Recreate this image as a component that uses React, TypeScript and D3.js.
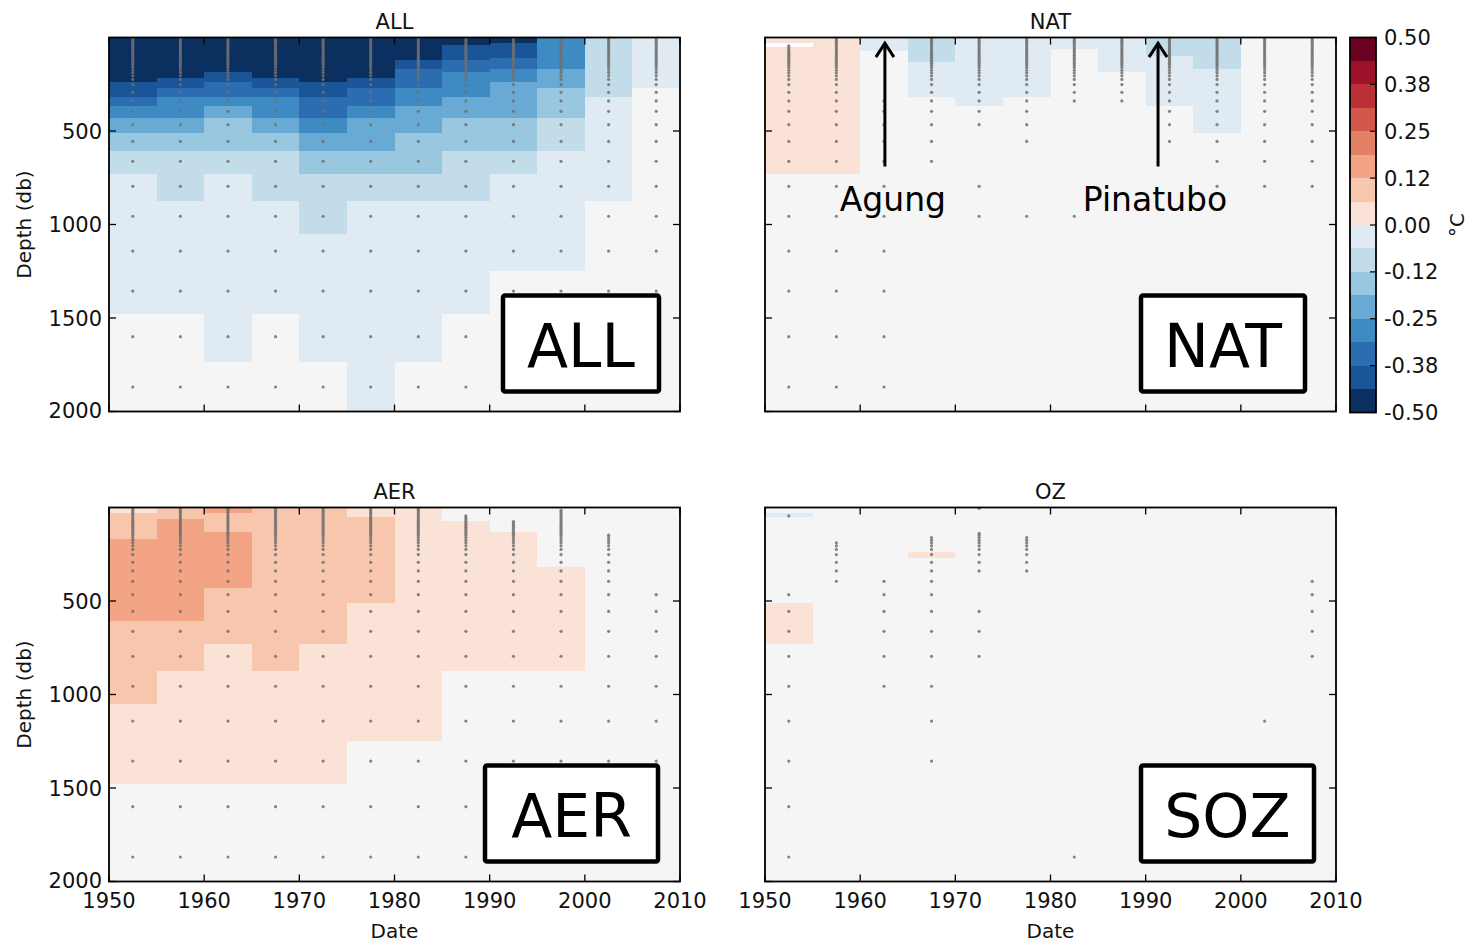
import React from 'react';
import * as d3 from 'd3';

// depth levels (db), cell centres
const levels = [5, 15, 25, 35, 45, 55, 65, 75, 85, 95, 105, 116, 127, 138, 148, 161, 175, 189, 205, 224, 252, 293, 339, 395, 466, 556, 662, 796, 956, 1142, 1356, 1600, 1869];
const pentads = [1950, 1955, 1960, 1965, 1970, 1975, 1980, 1985, 1990, 1995, 2000, 2005];
const yearTicks = [1950, 1960, 1970, 1980, 1990, 2000, 2010];
const depthTicks = [500, 1000, 1500, 2000];
const cbTicks = [0.5, 0.375, 0.25, 0.125, 0, -0.125, -0.25, -0.375, -0.5];
const cbTickLabels = ['0.50', '0.38', '0.25', '0.12', '0.00', '-0.12', '-0.25', '-0.38', '-0.50'];
const binEdges = d3.range(17).map((i) => -0.5 + i * 0.0625);
const binColors = ['#0b3060', '#1a5597', '#2b6db0', '#3d8bc2', '#68aad3', '#99c7df', '#c3dcea', '#dfeaf2',
  '#fae2d6', '#f8c6ad', '#f2a485', '#e27f64', '#d0574a', '#bb2f36', '#9d1228', '#6a0120'];

type Run = [number, number | null];
// each column: runs of [deepest level included, value]; null = not significant (grey), NaN = no data (white)
const allRuns: Run[][] = [
  [[224, -0.47], [293, -0.41], [339, -0.34], [395, -0.28], [466, -0.22], [556, -0.16], [662, -0.09], [1356, -0.03], [1869, null]],
  [[205, -0.47], [252, -0.41], [293, -0.34], [395, -0.28], [466, -0.22], [556, -0.16], [796, -0.09], [1356, -0.03], [1869, null]],
  [[175, -0.47], [224, -0.41], [293, -0.34], [339, -0.28], [395, -0.22], [556, -0.16], [662, -0.09], [1600, -0.03], [1869, null]],
  [[205, -0.47], [252, -0.41], [293, -0.34], [395, -0.28], [466, -0.22], [556, -0.16], [796, -0.09], [1356, -0.03], [1869, null]],
  [[224, -0.47], [293, -0.41], [395, -0.34], [466, -0.28], [556, -0.22], [662, -0.16], [956, -0.09], [1600, -0.03], [1869, null]],
  [[205, -0.47], [252, -0.41], [339, -0.34], [395, -0.28], [556, -0.22], [662, -0.16], [796, -0.09], [1869, -0.03]],
  [[116, -0.47], [161, -0.41], [252, -0.34], [339, -0.28], [466, -0.22], [662, -0.16], [796, -0.09], [1600, -0.03], [1869, null]],
  [[35, -0.47], [116, -0.41], [175, -0.34], [293, -0.28], [395, -0.22], [556, -0.16], [796, -0.09], [1356, -0.03], [1869, null]],
  [[25, -0.47], [105, -0.41], [161, -0.34], [224, -0.28], [395, -0.22], [556, -0.16], [662, -0.09], [1142, -0.03], [1869, null]],
  [[161, -0.28], [252, -0.22], [395, -0.16], [556, -0.09], [1142, -0.03], [1869, null]],
  [[293, -0.09], [796, -0.03], [1869, null]],
  [[252, -0.03], [1869, null]],
];
const natRuns: Run[][] = [
  [[25, 0.03], [45, NaN], [662, 0.03], [1869, null]],
  [[662, 0.03], [1869, null]],
  [[65, -0.03], [1869, null]],
  [[127, -0.09], [293, -0.03], [1869, null]],
  [[339, -0.03], [1869, null]],
  [[293, -0.03], [1869, null]],
  [[55, -0.03], [1869, null]],
  [[175, -0.03], [1869, null]],
  [[95, -0.09], [339, -0.03], [1869, null]],
  [[161, -0.09], [466, -0.03], [1869, null]],
  [[1869, null]],
  [[1869, null]],
];
const aerRuns: Run[][] = [
  [[25, 0.03], [161, 0.09], [556, 0.16], [956, 0.09], [1356, 0.03], [1869, null]],
  [[55, 0.09], [556, 0.16], [796, 0.09], [1356, 0.03], [1869, null]],
  [[25, 0.16], [127, 0.09], [395, 0.16], [662, 0.09], [1356, 0.03], [1869, null]],
  [[796, 0.09], [1356, 0.03], [1869, null]],
  [[662, 0.09], [1356, 0.03], [1869, null]],
  [[45, 0.03], [466, 0.09], [1142, 0.03], [1869, null]],
  [[1142, 0.03], [1869, null]],
  [[65, null], [796, 0.03], [1869, null]],
  [[127, null], [796, 0.03], [1869, null]],
  [[293, null], [796, 0.03], [1869, null]],
  [[1869, null]],
  [[1869, null]],
];
const ozRuns: Run[][] = [
  [[25, null], [45, -0.03], [466, null], [662, 0.03], [1869, null]],
  [[1869, null]],
  [[1869, null]],
  [[224, null], [252, 0.03], [1869, null]],
  [[1869, null]], [[1869, null]], [[1869, null]], [[1869, null]],
  [[1869, null]], [[1869, null]], [[1869, null]], [[1869, null]],
];

// stippling: ranges [from level, to level] per column
type Rng = [number, number][];
const allDots: Rng[] = pentads.map(() => [[5, 1869]] as Rng);
const natDots: Rng[] = [
  [[45, 1869]], [[5, 1869]], [[339, 1869]], [[5, 662]], [[5, 466], [796, 956]], [[5, 556], [956, 956]],
  [[5, 339], [956, 956]], [[5, 339]], [[5, 556]], [[5, 796]], [[5, 796]], [[5, 796]],
];
const aerDots: Rng[] = [
  [[5, 1869]], [[5, 1869]], [[5, 1869]], [[5, 1869]], [[5, 1869]], [[5, 1869]],
  [[5, 1869]], [[45, 1869]], [[75, 1869]], [[15, 1869]], [[148, 1869]], [[466, 1869]],
];
const ozDots: Rng[] = [
  [[45, 45], [466, 1869]], [[189, 395]], [[395, 956]], [[161, 1356]], [[5, 5], [138, 339], [556, 796]], [[161, 339]],
  [[1869, 1869]], [], [], [], [[1142, 1142]], [[395, 796]],
];

function expand(runs: Run[]): (number | null)[] {
  return levels.map((lv) => {
    const r = runs.find((rr) => lv <= rr[0]);
    return r ? r[1] : null;
  });
}

const edges = levels.map((lv, i) => (i === 0 ? 0 : (levels[i - 1] + lv) / 2)).concat([2000]);

function colorOf(v: number): string {
  let i = Math.floor((v + 0.5) / 0.0625);
  i = Math.max(0, Math.min(15, i));
  return binColors[i];
}

const FONT = 'DejaVu Sans, Liberation Sans, sans-serif';
const W = 571;
const H = 374;

interface PanelProps {
  x0: number; y0: number; title: string; boxText: string; runs: Run[][]; dots: Rng[];
  showY: boolean; showX: boolean; boxX: number; boxW: number; children?: React.ReactNode;
}

function Panel({ x0, y0, title, boxText, runs, dots, showY, showX, boxX, boxW, children }: PanelProps) {
  const x = d3.scaleLinear().domain([1950, 2010]).range([0, W]);
  const y = d3.scaleLinear().domain([0, 2000]).range([0, H]);
  const cells: React.ReactNode[] = [];
  runs.forEach((col, ci) => {
    const vals = expand(col);
    const x1 = x(pentads[ci]);
    const x2 = x(pentads[ci] + 5);
    vals.forEach((v, li) => {
      if (v === null) return;
      const fill = Number.isNaN(v) ? '#ffffff' : colorOf(v);
      cells.push(<rect key={`c${ci}-${li}`} x={x1} y={y(edges[li])} width={x2 - x1} height={y(edges[li + 1]) - y(edges[li])} fill={fill} shapeRendering="crispEdges" />);
    });
  });
  const dotEls: React.ReactNode[] = [];
  dots.forEach((rngs, ci) => {
    const cx = x(pentads[ci] + 2.5);
    levels.forEach((lv, li) => {
      if (rngs.some(([a, b]) => lv >= a && lv <= b)) {
        dotEls.push(<circle key={`d${ci}-${li}`} cx={cx} cy={y(lv)} r={1.6} fill="#707070" fillOpacity={0.85} />);
      }
    });
  });
  return (
    <g transform={`translate(${x0},${y0})`}>
      <rect x={0} y={0} width={W} height={H} fill="#f5f5f5" />
      {cells}
      {dotEls}
      {children}
      {depthTicks.map((t) => (
        <g key={`yt${t}`}>
          <line x1={0} x2={7} y1={y(t)} y2={y(t)} stroke="#000" strokeWidth={1.3} />
          <line x1={W - 7} x2={W} y1={y(t)} y2={y(t)} stroke="#000" strokeWidth={1.3} />
          {showY && (
            <text x={-7} y={y(t) - (t === 2000 ? 1 : 0)} dy="0.36em" textAnchor="end" fontSize={21} fontFamily={FONT} fill="#111">{t}</text>
          )}
        </g>
      ))}
      {yearTicks.map((t) => (
        <g key={`xt${t}`}>
          <line x1={x(t)} x2={x(t)} y1={H} y2={H - 7} stroke="#000" strokeWidth={1.3} />
          <line x1={x(t)} x2={x(t)} y1={0} y2={7} stroke="#000" strokeWidth={1.3} />
          {showX && (
            <text x={x(t)} y={H + 26} textAnchor="middle" fontSize={21} fontFamily={FONT} fill="#111">{t}</text>
          )}
        </g>
      ))}
      <rect x={0} y={0} width={W} height={H} fill="none" stroke="#000" strokeWidth={1.8} />
      <text x={W / 2} y={-9} textAnchor="middle" fontSize={21} fontFamily={FONT} fill="#111">{title}</text>
      {showY && (
        <text transform={`translate(${-78},${H / 2}) rotate(-90)`} textAnchor="middle" fontSize={20} fontFamily={FONT} fill="#111">Depth (db)</text>
      )}
      {showX && (
        <text x={W / 2} y={H + 56} textAnchor="middle" fontSize={20} fontFamily={FONT} fill="#111">Date</text>
      )}
      <rect x={boxX} y={H - 116} width={boxW} height={96} fill="#fff" stroke="#000" strokeWidth={4.5} rx={2} />
      <text x={boxX + boxW / 2} y={H - 116 + 71} textAnchor="middle" fontSize={60} fontFamily={FONT} fill="#000">{boxText}</text>
    </g>
  );
}

function Arrow({ xPos, label, dx }: { xPos: number; label: string; dx: number }) {
  const x = d3.scaleLinear().domain([1950, 2010]).range([0, W]);
  const y = d3.scaleLinear().domain([0, 2000]).range([0, H]);
  const ax = x(xPos);
  const top = y(25);
  const bot = y(690);
  return (
    <g>
      <line x1={ax} x2={ax} y1={top + 1} y2={bot} stroke="#000" strokeWidth={3} />
      <polyline points={`${ax - 9},${top + 15} ${ax},${top + 1} ${ax + 9},${top + 15}`} fill="none" stroke="#000" strokeWidth={3} />
      <text x={ax + dx} y={y(930)} textAnchor="middle" fontSize={33} fontFamily={FONT} fill="#000">{label}</text>
    </g>
  );
}

function Colorbar() {
  const x0 = 1350;
  const y0 = 37.5;
  const w = 26;
  const h = 375;
  const s = d3.scaleLinear().domain([-0.5, 0.5]).range([h, 0]);
  return (
    <g transform={`translate(${x0},${y0})`}>
      {binColors.map((c, i) => (
        <rect key={i} x={0} y={s(binEdges[i + 1])} width={w} height={s(binEdges[i]) - s(binEdges[i + 1])} fill={c} shapeRendering="crispEdges" />
      ))}
      {cbTicks.map((t, i) => (
        <g key={t}>
          <line x1={w - 6} x2={w} y1={s(t)} y2={s(t)} stroke="#000" strokeWidth={1.2} />
          <text x={w + 8} y={s(t)} dy="0.36em" fontSize={21} fontFamily={FONT} fill="#111">{cbTickLabels[i]}</text>
        </g>
      ))}
      <rect x={0} y={0} width={w} height={h} fill="none" stroke="#000" strokeWidth={1.8} />
      <text transform={`translate(${w + 88},${h / 2}) rotate(-90)`} textAnchor="middle" fontSize={20} fontFamily={FONT} fill="#111">°C</text>
    </g>
  );
}

export default function App() {
  return (
    <svg width={1472} height={943} style={{ position: 'absolute', left: 0, top: 0, background: '#fff' }}>
      <Panel x0={109} y0={37.5} title="ALL" boxText="ALL" runs={allRuns} dots={allDots} showY showX={false} boxX={394} boxW={156} />
      <Panel x0={765} y0={37.5} title="NAT" boxText="NAT" runs={natRuns} dots={natDots} showY={false} showX={false} boxX={376} boxW={164}>
        <Arrow xPos={1962.6} label="Agung" dx={8} />
        <Arrow xPos={1991.3} label="Pinatubo" dx={-3} />
      </Panel>
      <Panel x0={109} y0={507.5} title="AER" boxText="AER" runs={aerRuns} dots={aerDots} showY showX boxX={376} boxW={173} />
      <Panel x0={765} y0={507.5} title="OZ" boxText="SOZ" runs={ozRuns} dots={ozDots} showY={false} showX boxX={376} boxW={173} />
      <Colorbar />
    </svg>
  );
}
